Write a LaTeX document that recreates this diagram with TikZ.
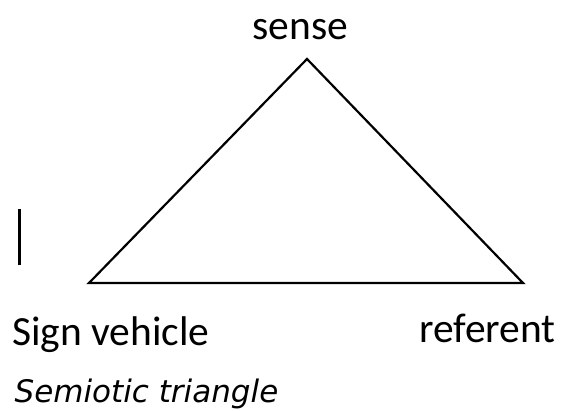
\documentclass[tikz,border=0pt]{standalone}
\usepackage{fontspec}
\setmainfont{Carlito}
\newfontfamily\capfont{DejaVu Sans}
\begin{document}
\begin{tikzpicture}[x=1pt,y=1pt,
  lbl/.style={inner sep=0pt,anchor=base,font=\fontsize{41.5}{48}\selectfont},
  edge/.style={line width=2.2pt,black}]
\useasboundingbox (0,0) rectangle (565,410);
\coordinate (apex) at (307,351);
\coordinate (left) at (89,127);
\coordinate (right) at (523,127);
\coordinate (barTop) at (19,201);
\coordinate (barBot) at (19,145);
\draw[edge] (left) -- (apex) -- (right) -- cycle;
\draw[line width=3pt] (barTop) -- (barBot);
\node[lbl] (sense) at (300.5,370) {sense};
\node[lbl] (sign) at (111,65) {Sign vehicle};
\node[lbl] (ref) at (487.5,68) {referent};
\node[inner sep=0pt,anchor=base,font=\capfont\itshape\fontsize{31}{36}\selectfont] (cap) at (146.5,8) {Semiotic triangle};
\end{tikzpicture}
\end{document}
